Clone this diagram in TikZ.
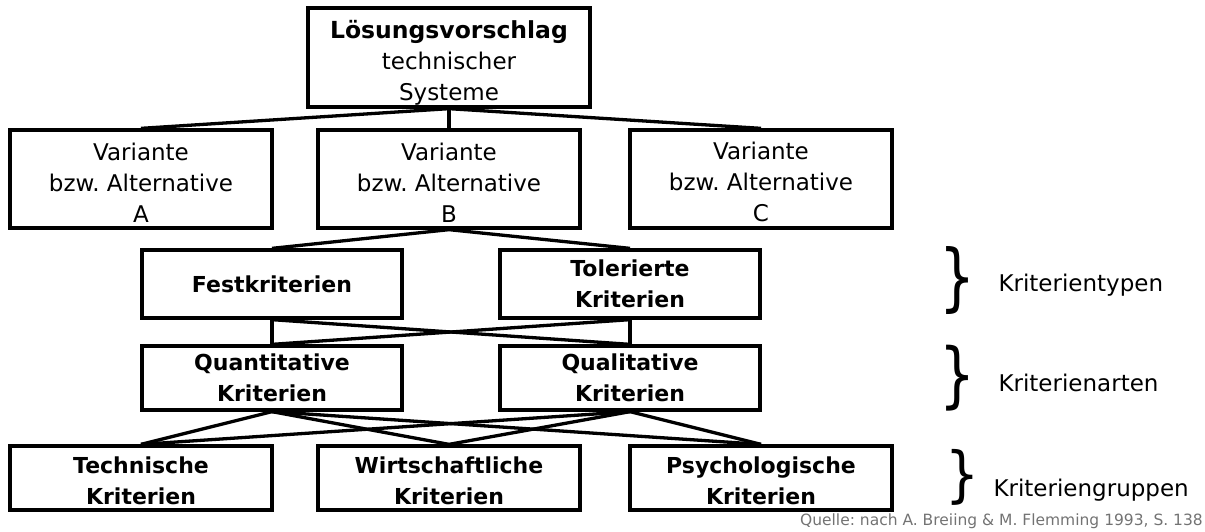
\documentclass[tikz,border=0pt]{standalone}
\usepackage{fontspec}
\usepackage{graphicx}
\setmainfont{DejaVu Sans}
\newcommand{\firststrut}[1]{\rule{0pt}{#1}}
\newcommand{\bracesym}[2]{\resizebox*{#1}{#2}{\fontsize{60}{60}\selectfont\}}}
\begin{document}
\frenchspacing
\begin{tikzpicture}[x=1pt,y=-1pt,
  box/.style={draw,line width=3.3pt,rectangle,inner sep=0pt,align=center,
    font=\fontsize{23}{31}\selectfont},
  wide/.style={box,minimum width=262pt,minimum height=98pt},
  crit/.style={box,minimum width=260pt,font=\fontsize{22}{31}\selectfont\bfseries},
  grp/.style={box,minimum width=262pt,minimum height=64pt,font=\fontsize{22}{31}\selectfont\bfseries},
  link/.style={line width=3.3pt},
  lbl/.style={anchor=west,font=\fontsize{23}{30}\selectfont},
  curly/.style={inner sep=0pt,anchor=center}]
\useasboundingbox (0,0) rectangle (1205,531);

% root
\node[box,minimum width=282pt,minimum height=99pt] (root) at (449,57.5)
  {\firststrut{29pt}{\fontsize{23.5}{31}\selectfont\bfseries Lösungsvorschlag}\\technischer\\Systeme};

% alternatives
\node[wide] (va) at (141,179) {\firststrut{24pt}Variante\\bzw. Alternative\\A};
\node[wide] (vb) at (449,179) {\firststrut{24pt}Variante\\bzw. Alternative\\B};
\node[wide] (vc) at (761,179) {\firststrut{24pt}Variante\\bzw. Alternative\\C};

% criterion types
\node[crit,minimum height=68pt] (fest) at (272,284) {Festkriterien};
\node[crit,minimum height=68pt] (tol)  at (630,284) {Tolerierte\\Kriterien};

% criterion kinds
\node[crit,minimum height=64pt] (quant) at (272,378) {Quantitative\\Kriterien};
\node[crit,minimum height=64pt] (qual)  at (630,378) {Qualitative\\Kriterien};

% criterion groups
\node[grp] (tech) at (141,478) {\firststrut{23pt}Technische\\Kriterien};
\node[grp] (wirt) at (449,478) {\firststrut{23pt}Wirtschaftliche\\Kriterien};
\node[grp] (psy)  at (761,478) {\firststrut{23pt}Psychologische\\Kriterien};

% connectors
\foreach \t in {va,vb,vc} \draw[link] (root.south) -- (\t.north);
\foreach \t in {fest,tol} \draw[link] (vb.south) -- (\t.north);
\foreach \s in {fest,tol} \foreach \t in {quant,qual} \draw[link] (\s.south) -- (\t.north);
\foreach \s in {quant,qual} \foreach \t in {tech,wirt,psy} \draw[link] (\s.south) -- (\t.north);

% braces with level names
\node[curly] (b1) at (957,281) {\bracesym{36pt}{68pt}};
\node[curly] (b2) at (957,378) {\bracesym{36pt}{66pt}};
\node[curly] (b3) at (962,477) {\bracesym{34pt}{56pt}};
\node[lbl] (l1) at (995,285) {Kriterientypen};
\node[lbl] (l2) at (995,383) {Kriterienarten};
\node[lbl] (l3) at (990,490) {Kriteriengruppen};

% source
\node[anchor=south east,inner sep=0pt,text=black!55,
  font=\fontsize{15.5}{17}\selectfont] (src) at (1203,529)
  {Quelle: nach A. Breiing \& M. Flemming 1993, S. 138};
\end{tikzpicture}
\end{document}
